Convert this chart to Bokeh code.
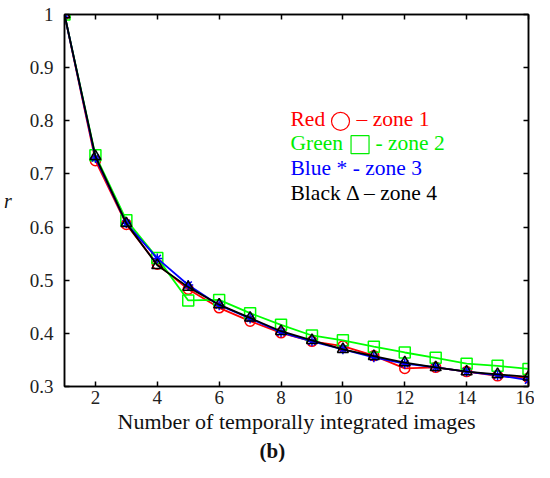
from bokeh.plotting import figure
from bokeh.models import (Range1d, FixedTicker, LinearAxis, CustomJSTickFormatter, Title, ColumnDataSource)
from bokeh.core.properties import value
from bokeh.embed import file_html
from bokeh.resources import INLINE

# ---- data ----
n_images = list(range(1, 17))
zone1_red = [1.0, 0.725, 0.605, 0.530, 0.483, 0.448, 0.423, 0.401, 0.385, 0.376, 0.358, 0.334, 0.336, 0.328, 0.320, 0.316]
zone2_green = [1.0, 0.735, 0.613, 0.542, 0.462, 0.463, 0.438, 0.416, 0.396, 0.387, 0.375, 0.364, 0.354, 0.343, 0.339, 0.333]
zone3_blue = [1.0, 0.730, 0.607, 0.541, 0.491, 0.453, 0.428, 0.402, 0.385, 0.370, 0.355, 0.343, 0.336, 0.328, 0.321, 0.312]
zone4_black = [1.0, 0.733, 0.607, 0.528, 0.487, 0.454, 0.429, 0.404, 0.387, 0.370, 0.357, 0.345, 0.336, 0.328, 0.323, 0.318]

x_ticks = [2, 4, 6, 8, 10, 12, 14, 16]
y_ticks = [0.3, 0.4, 0.5, 0.6, 0.7, 0.8, 0.9, 1.0]

# legend block (text pieces; symbols drawn as outline markers)
legend_text = ["Red", "\u2013 zone 1", "Green", "- zone 2", "Blue * - zone 3", "Black \u0394 \u2013 zone 4"]
legend_text_x = [8.307, 10.441, 8.307, 11.055, 8.307, 8.307]
legend_text_y = [0.803, 0.803, 0.758, 0.758, 0.711, 0.664]
legend_text_color = ["#FF0000", "#FF0000", "#00EE00", "#00EE00", "#0000FF", "#000000"]
legend_sym_marker = ["circle", "square"]
legend_sym_x = [9.923, 10.554]
legend_sym_y = [0.799, 0.755]
legend_sym_color = ["#FF0000", "#00EE00"]

FONT = "Liberation Serif"

p = figure(width=534, height=462, output_backend="svg", toolbar_location=None,
           x_range=Range1d(1, 16), y_range=Range1d(0.3, 1.0),
           min_border_left=64, min_border_right=6, min_border_top=14, min_border_bottom=75)
p.grid.visible = False
p.outline_line_color = "black"
p.outline_line_width = 1.5
p.background_fill_color = "white"
p.border_fill_color = "white"

yfmt = CustomJSTickFormatter(code="return tick > 0.99 ? '1' : tick.toFixed(1);")
blank = CustomJSTickFormatter(code="return '';")

xa = p.xaxis[0]
ya = p.yaxis[0]
for ax in (xa, ya):
    ax.major_tick_in = 5
    ax.major_tick_out = 0
    ax.minor_tick_in = 0
    ax.minor_tick_out = 0
    ax.axis_line_width = 1.5
    ax.major_tick_line_width = 1.5
    ax.major_label_text_font = FONT
    ax.major_label_text_font_size = "19px"
    ax.major_label_text_color = "#222222"
    ax.axis_label_text_font = FONT
    ax.axis_label_text_font_style = "normal"
    ax.axis_label_text_color = "#111111"
xa.ticker = FixedTicker(ticks=x_ticks)
ya.ticker = FixedTicker(ticks=y_ticks)
ya.formatter = yfmt
xa.major_label_standoff = 4
xa.axis_label = "Number of temporally integrated images"
xa.axis_label_text_font_size = "22px"
xa.axis_label_standoff = 2
ya.axis_label = "r"
ya.axis_label_text_font_style = "italic"
ya.axis_label_text_font_size = "20px"
ya.axis_label_orientation = "horizontal"
ya.major_label_standoff = 11
ya.axis_label_standoff = 15

top = LinearAxis(ticker=FixedTicker(ticks=x_ticks), formatter=blank, major_label_text_font_size="1px",
                 major_tick_in=5, major_tick_out=0, minor_tick_in=0, minor_tick_out=0,
                 axis_line_width=1.5, major_tick_line_width=1.5, major_label_standoff=0)
right = LinearAxis(ticker=FixedTicker(ticks=y_ticks), formatter=blank, major_label_text_font_size="1px",
                   major_tick_in=5, major_tick_out=0, minor_tick_in=0, minor_tick_out=0,
                   axis_line_width=1.5, major_tick_line_width=1.5, major_label_standoff=0)
p.add_layout(top, "above")
p.add_layout(right, "right")

# panel caption
p.add_layout(Title(text="(b)", align="left", offset=195, text_font=FONT, text_font_size="21px",
                   text_font_style="bold", text_color="#111111", standoff=0), "below")

# series
p.line(n_images, zone1_red, color="#FF0000", line_width=1.8)
p.scatter(n_images, zone1_red, marker="circle", size=10, fill_color=None, line_color="#FF0000", line_width=1.5)

p.line(n_images, zone2_green, color="#00FF00", line_width=1.8)
p.scatter(n_images, zone2_green, marker="square", size=11, fill_color=None, line_color="#00FF00", line_width=1.5)

p.line(n_images, zone3_blue, color="#0000FF", line_width=1.8)
p.scatter(n_images, zone3_blue, marker="asterisk", size=10, line_color="#0000FF", line_width=1.5)

p.line(n_images, zone4_black, color="#000000", line_width=1.8)
p.scatter(n_images, zone4_black, marker="triangle", size=11, fill_color=None, line_color="#000000", line_width=1.5)

# legend block
leg = ColumnDataSource(dict(x=legend_text_x, y=legend_text_y, t=legend_text, c=legend_text_color))
p.text(x="x", y="y", text="t", text_color="c", source=leg, text_font=value(FONT),
       text_font_size="21.5px", text_baseline="middle", text_align="left")
sym = ColumnDataSource(dict(x=legend_sym_x, y=legend_sym_y, m=legend_sym_marker, c=legend_sym_color))
p.scatter(x="x", y="y", marker="m", line_color="c", fill_color=None, size=18, line_width=1.2, source=sym)

open("out.html", "w").write(file_html(p, INLINE))
